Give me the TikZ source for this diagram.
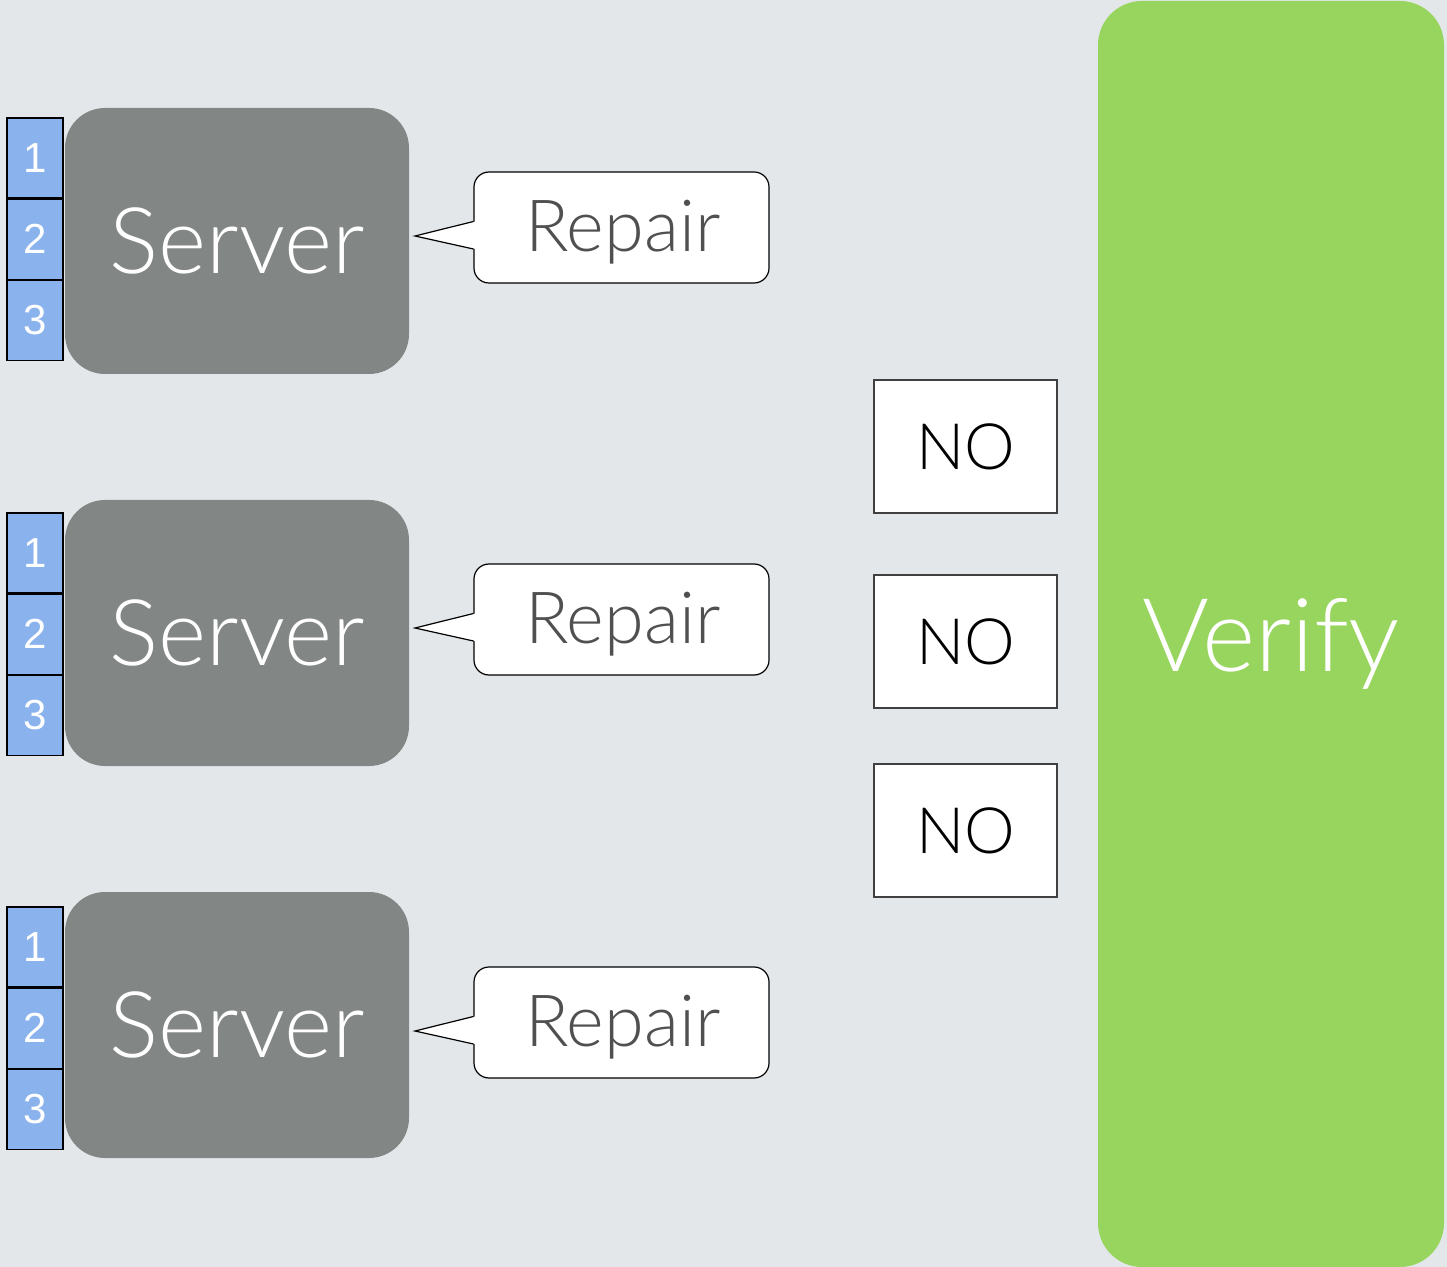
\documentclass[tikz,border=0pt]{standalone}
\usepackage{fontspec}
\setmainfont{Lato Light}
\newfontfamily\digitfont{Liberation Sans}
\usetikzlibrary{positioning,calc}

\definecolor{bgcol}{HTML}{E3E7EA}
\definecolor{servergray}{HTML}{828785}
\definecolor{slotblue}{HTML}{8AB2EC}
\definecolor{verifygreen}{HTML}{98D55F}
\definecolor{repairtext}{HTML}{505050}

\tikzset{
  serverbox/.style={fill=servergray, draw=none, rounded corners=20pt,
    minimum width=172pt, minimum height=133pt, inner sep=0pt,
    text=white, font=\fontsize{46}{50}\selectfont},
  slotbox/.style={fill=slotblue, draw=black, line width=0.6pt,
    minimum width=28pt, minimum height=40pt, inner sep=0pt,
    text=white, font=\digitfont\fontsize{21}{24}\selectfont},
  repairbox/.style={fill=white, draw=black, line width=0.6pt, rounded corners=7.5pt,
    minimum width=147.5pt, minimum height=55.5pt, inner sep=0pt},
  repairlabel/.style={text=repairtext, font=\fontsize{36}{40}\selectfont, inner sep=0pt},
  nobox/.style={fill=white, draw=black!75, line width=0.6pt,
    minimum width=91.5pt, minimum height=66.5pt, inner sep=0pt,
    text=black, font=\fontsize{32}{36}\selectfont},
  verifybox/.style={fill=verifygreen, draw=none, rounded corners=22pt,
    minimum width=173pt, minimum height=633pt, inner sep=0pt},
}

\begin{document}
\begin{tikzpicture}[x=0.5pt, y=-0.5pt]
  % canvas
  \fill[bgcol] (0,0) rectangle (1447,1267);
  \useasboundingbox (0,0) rectangle (1447,1267);

  % verifier column
  \node[verifybox] (v) at (1271,634) {};
  \node[text=white, font=\fontsize{51}{56}\selectfont] (vt) at (1271,644) {Verify};

  % three servers, each with three slots and a repair callout
  % row / server centre / top of slot 1 / repair centre
  \foreach \i/\y/\t/\r in {1/241/118/227.5, 2/633/513/619.5, 3/1025/907/1022.5} {
    \node[serverbox] (s\i) at (237,\y) {Server};
    \node[slotbox] (c\i1) at (35,\t+40) {1};
    \node[slotbox, below=0pt of c\i1] (c\i2) {2};
    \node[slotbox, below=0pt of c\i2] (c\i3) {3};
    \node[repairbox] (r\i) at (621.5,\r) {};
    \node[repairlabel] (rl\i) at (623,\r+5) {Repair};
    \coordinate (p\i) at (415,\r+8.5);
    \coordinate (bt\i) at ($(r\i.west)+(0,-6)$);
    \coordinate (bb\i) at ($(r\i.west)+(0,21.5)$);
    \fill[white] ($(bt\i)+(2,0)$) -- (p\i) -- ($(bb\i)+(2,0)$) -- cycle;
    \draw[line width=0.6pt, line join=miter] (bt\i) -- (p\i) -- (bb\i);
  }

  % verification answers
  \node[nobox] (n1) at (965.5,446.5) {NO};
  \node[nobox] (n2) at (965.5,641.5) {NO};
  \node[nobox] (n3) at (965.5,830.5) {NO};
\end{tikzpicture}
\end{document}
